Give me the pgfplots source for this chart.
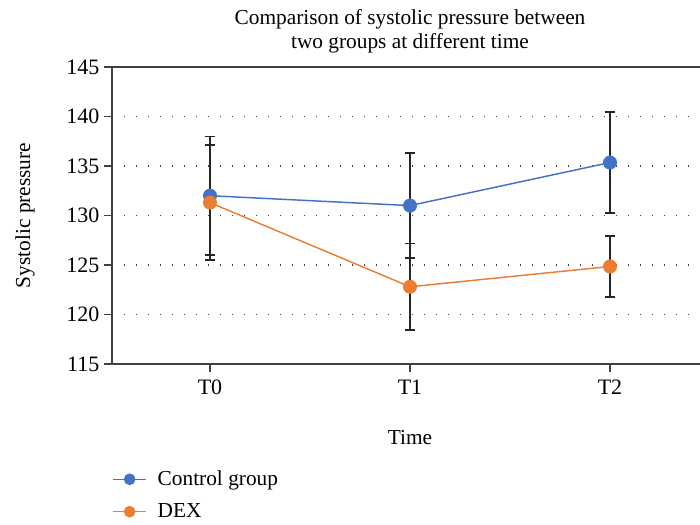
\documentclass[border=0pt]{standalone}
\usepackage{fontspec}
\setmainfont{Liberation Serif}
\usepackage{pgfplots}
\pgfplotsset{compat=1.18}
\usepackage{pgfplotstable}
\definecolor{cblue}{HTML}{4472C4}
\definecolor{corange}{HTML}{ED7D31}
\definecolor{axgray}{HTML}{404040}
\pgfplotstableread{
x y e
0 132.0 6.0
1 131.0 5.3
2 135.35 5.1
}\ctrl
\pgfplotstableread{
x y e
0 131.3 5.8
1 122.8 4.35
2 124.85 3.08
}\dex
\begin{document}
\begin{tikzpicture}[font=\fontsize{16}{18}\selectfont]
\begin{axis}[
  name=ax,
  scale only axis, width=447pt, height=222.75pt,
  xmin=-0.49, xmax=2.49, ymin=115, ymax=145,
  xtick={0,1,2}, xticklabels={T0,T1,T2},
  ytick={115,120,...,145},
  tick pos=left,
  tick align=outside,
  major tick length=6pt,
  axis line style={axgray, line width=1pt},
  every tick/.style={axgray, line width=1pt},
  /pgf/number format/assume math mode=true,
  yticklabel style={font=\fontsize{16.5}{18}\selectfont},
  xticklabel style={font=\fontsize{16.5}{18}\selectfont, yshift=-2.5pt},
  ymajorgrids,
  major grid style={dash pattern=on 0.9pt off 8.1pt, line width=0.9pt, black!75},
  title={Comparison of systolic pressure between\\two groups at different time},
  title style={align=center, at={(0.5,1.093)}, anchor=center},
  xlabel={Time},
  xlabel style={at={(0.5,-0.246)}, anchor=center},
  ylabel={Systolic pressure},
  ylabel style={at={(-0.146,0.5)}, anchor=center, rotate=0},
  legend style={at={(0,-0.35)}, anchor=north west, draw=none, fill=none, inner sep=0pt, row sep=8pt, column sep=6pt},
  legend cell align=left,
  legend image code/.code={\draw[mark repeat=2,mark phase=2, mark size=3.8pt] plot coordinates {(0pt,0pt)(12.5pt,0pt)(25pt,0pt)};},
]
\addplot[draw=none, forget plot, error bars/.cd, y dir=both, y explicit,
  error mark options={black!85, line width=1.1pt, mark size=3.75pt, rotate=90},
  error bar style={black!85, line width=1.1pt}] table[x=x, y=y, y error=e] {\ctrl};
\addplot[draw=none, forget plot, error bars/.cd, y dir=both, y explicit,
  error mark options={black!85, line width=1.1pt, mark size=3.75pt, rotate=90},
  error bar style={black!85, line width=1.1pt}] table[x=x, y=y, y error=e] {\dex};
\addplot[cblue, line width=1.1pt, mark=*, mark size=4.7pt, mark options={fill=cblue, draw=none}] table[x=x, y=y] {\ctrl};
\addlegendentry{Control group}
\addplot[corange, line width=1.1pt, mark=*, mark size=4.7pt, mark options={fill=corange, draw=none}] table[x=x, y=y] {\dex};
\addlegendentry{DEX}
\end{axis}
\pgfresetboundingbox
\path (ax.south west) ++(-84pt,-120.75pt) rectangle ++(525pt,393.75pt);
\end{tikzpicture}
\end{document}
